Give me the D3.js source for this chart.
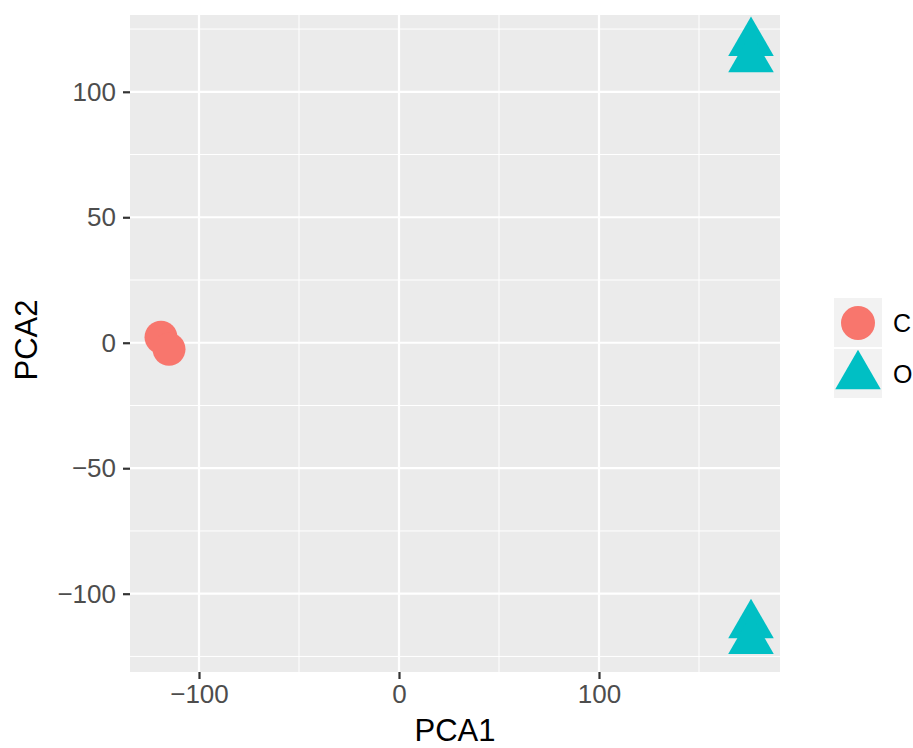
<!DOCTYPE html>
<html>
<head>
<meta charset="utf-8">
<script src="https://cdn.jsdelivr.net/npm/d3@7"></script>
<style>
  body { margin: 0; background: #fff; }
  text { font-family: "Liberation Sans", Arial, Helvetica, sans-serif; }
</style>
</head>
<body>
<svg id="chart"></svg>
<script>
// groups and their PCA scores
var groups = ["C", "O"];
var colors = ["#F8766D", "#00BFC4"];
var cX = [-119, -115];
var cY = [2.2, -2.6];
var oX = [176, 176, 176, 176];
var oY = [119.5, 113, -112.5, -118.8];

var xTicks = [-100, 0, 100];
var yTicks = [-100, -50, 0, 50, 100];
var xMinor = [-50, 50, 150];
var yMinor = [-125, -75, -25, 25, 75, 125];

var width = 913, height = 748;
var panel = { left: 130, right: 780, top: 15, bottom: 672 };

var svg = d3.select("#chart").attr("width", width).attr("height", height);

var x = d3.scaleLinear().domain([-134.5, 190.5]).range([panel.left, panel.right]);
var y = d3.scaleLinear().domain([-131.2, 130.6]).range([panel.bottom, panel.top]);

svg.append("rect")
  .attr("x", panel.left).attr("y", panel.top)
  .attr("width", panel.right - panel.left).attr("height", panel.bottom - panel.top)
  .attr("fill", "#EBEBEB");

// minor grid
svg.selectAll(".xminor").data(xMinor).enter().append("line")
  .attr("x1", d => x(d)).attr("x2", d => x(d))
  .attr("y1", panel.top).attr("y2", panel.bottom)
  .attr("stroke", "#fff").attr("stroke-width", 1);
svg.selectAll(".yminor").data(yMinor).enter().append("line")
  .attr("y1", d => y(d)).attr("y2", d => y(d))
  .attr("x1", panel.left).attr("x2", panel.right)
  .attr("stroke", "#fff").attr("stroke-width", 1);
// major grid
svg.selectAll(".xmajor").data(xTicks).enter().append("line")
  .attr("x1", d => x(d)).attr("x2", d => x(d))
  .attr("y1", panel.top).attr("y2", panel.bottom)
  .attr("stroke", "#fff").attr("stroke-width", 2.2);
svg.selectAll(".ymajor").data(yTicks).enter().append("line")
  .attr("y1", d => y(d)).attr("y2", d => y(d))
  .attr("x1", panel.left).attr("x2", panel.right)
  .attr("stroke", "#fff").attr("stroke-width", 2.2);

// axes
var fmt = d => d < 0 ? "\u2212" + Math.abs(d) : d;
var xAxis = svg.append("g")
  .attr("transform", "translate(0," + panel.bottom + ")")
  .call(d3.axisBottom(x).tickValues(xTicks).tickSize(7).tickPadding(6).tickFormat(fmt));
var yAxis = svg.append("g")
  .attr("transform", "translate(" + panel.left + ",0)")
  .call(d3.axisLeft(y).tickValues(yTicks).tickSize(7).tickPadding(7).tickFormat(fmt));
[xAxis, yAxis].forEach(a => {
  a.select(".domain").remove();
  a.selectAll(".tick line").attr("stroke", "#333").attr("stroke-width", 2.2);
  a.selectAll(".tick text").attr("fill", "#4D4D4D")
    .style("font-size", "26px").style("font-family", "'Liberation Sans', Arial, sans-serif");
});

svg.append("text")
  .attr("x", (panel.left + panel.right) / 2).attr("y", 741)
  .attr("text-anchor", "middle").style("font-size", "31px").attr("fill", "#000")
  .text("PCA1");
svg.append("text")
  .attr("transform", "translate(37," + 340 + ") rotate(-90)")
  .attr("text-anchor", "middle").style("font-size", "31px").attr("fill", "#000")
  .text("PCA2");

// points
var tri = d3.symbol().type(d3.symbolTriangle).size(900);
svg.selectAll(".pc").data(cX.map((v, i) => [v, cY[i]])).enter().append("circle")
  .attr("cx", d => x(d[0])).attr("cy", d => y(d[1])).attr("r", 16.5)
  .attr("fill", colors[0]);
svg.selectAll(".po").data(oX.map((v, i) => [v, oY[i]])).enter().append("path")
  .attr("d", tri)
  .attr("transform", d => "translate(" + x(d[0]) + "," + y(d[1]) + ")")
  .attr("fill", colors[1]);

// legend
var leg = svg.append("g").attr("transform", "translate(834,298)");
groups.forEach((g, i) => {
  var gy = i * 51;
  leg.append("rect").attr("x", 0).attr("y", gy).attr("width", 48).attr("height", 49)
    .attr("fill", "#F2F2F2");
  if (i === 0) {
    leg.append("circle").attr("cx", 24).attr("cy", gy + 25).attr("r", 17).attr("fill", colors[i]);
  } else {
    leg.append("path").attr("d", tri).attr("transform", "translate(24," + (gy + 27) + ")")
      .attr("fill", colors[i]);
  }
  leg.append("text").attr("x", 59).attr("y", gy + 25).attr("dy", "0.36em")
    .style("font-size", "25px").attr("fill", "#000").text(g);
});
</script>
</body>
</html>
